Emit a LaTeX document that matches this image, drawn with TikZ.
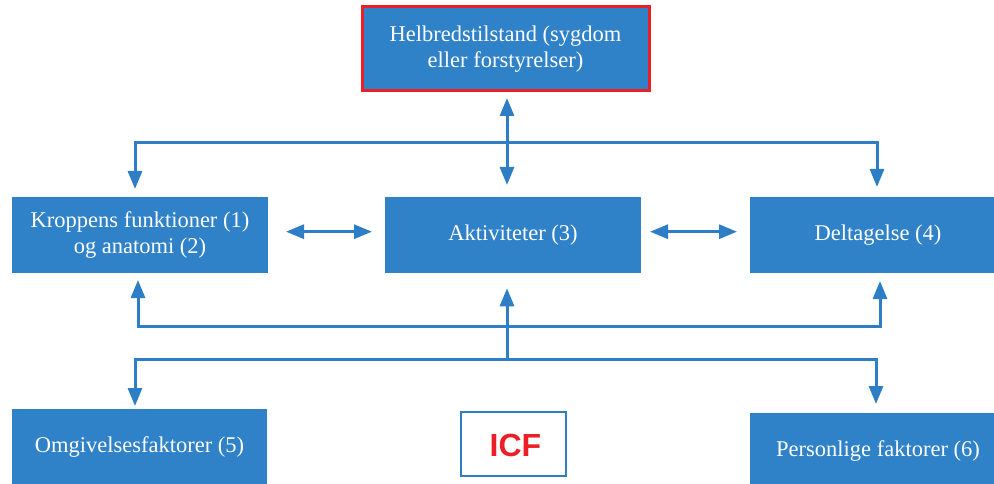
\documentclass[tikz,border=0pt]{standalone}
\usepackage{fontspec}
\setmainfont{Liberation Serif}
\newfontfamily\icffont{Liberation Sans}
\usetikzlibrary{arrows.meta}
\definecolor{boxblue}{RGB}{47,129,200}
\definecolor{lineblue}{RGB}{46,126,198}
\definecolor{icfred}{RGB}{236,30,38}
\begin{document}
\begin{tikzpicture}[x=1pt,y=-1pt,
  bluebox/.style={rectangle, fill=boxblue, inner sep=0pt, outer sep=0pt, text=white,
    align=center, font=\fontsize{22.5}{25.6}\selectfont},
  conn/.style={draw=lineblue, line width=3pt, line join=miter,
    arrows={Triangle[length=18pt,width=14pt]-Triangle[length=18pt,width=14pt]}},
  connone/.style={draw=lineblue, line width=3pt,
    arrows={-Triangle[length=18pt,width=14pt]}}]
\useasboundingbox (0,0) rectangle (994,484);
% boxes
\node[bluebox, draw=icfred, line width=3pt, minimum width=287pt, minimum height=84pt] (top) at (505.5,49) {Helbredstilstand (sygdom\\eller forstyrelser)};
\node[bluebox, minimum width=256pt, minimum height=76pt] (kb) at (140,235) {Kroppens funktioner (1)\\og anatomi (2)};
\node[bluebox, minimum width=256pt, minimum height=76pt] (akt) at (513,235) {Aktiviteter (3)};
\node[bluebox, minimum width=256pt, minimum height=76pt] (del) at (878,235) {Deltagelse (4)};
\node[bluebox, minimum width=255pt, minimum height=77pt] (om) at (139.5,447.2) {Omgivelsesfaktorer (5)};
\node[bluebox, minimum width=256pt, minimum height=77pt] (pers) at (878,451.2) {Personlige faktorer (6)};
\node[rectangle, draw=lineblue, line width=2.7pt, fill=white, minimum width=105pt, minimum height=64pt, inner sep=0pt] (icf) at (513.5,444) {};
\node[text=icfred, font=\icffont\bfseries\fontsize{32}{32}\selectfont, inner sep=0pt] (icft) at (515.5,445.3) {ICF};
% coordinates
\coordinate (hj) at (507,142.7);
\coordinate (tl) at (135,142.7);
\coordinate (tr) at (877,142.7);
\coordinate (ul) at (138,326.7);
\coordinate (ur) at (880,326.7);
\coordinate (lm) at (507,359);
\coordinate (ll) at (135,359);
\coordinate (lr) at (876,359);
% top connectors
\draw[conn, shorten <=7pt, shorten >=12pt] (hj |- top.south) -- (hj |- akt.north);
\draw[conn, shorten <=8pt, shorten >=10pt] (tl |- kb.north) -- (tl) -- (tr) -- (tr |- del.north);
% horizontal double arrows
\draw[conn, shorten <=18pt, shorten >=13pt] ([yshift=3.3pt]kb.east) -- ([yshift=3.3pt]akt.west);
\draw[conn, shorten <=9pt, shorten >=13pt] ([yshift=3.3pt]akt.east) -- ([yshift=3.3pt]del.west);
% bottom connectors
\draw[conn, shorten <=7pt, shorten >=8pt] (ul |- kb.south) -- (ul) -- (ur) -- (ur |- del.south);
\draw[connone, shorten >=15.3pt] (lm) -- (lm |- akt.south);
\draw[conn, shorten <=2.7pt, shorten >=8.7pt] (ll |- om.north) -- (ll) -- (lr) -- (lr |- pers.north);
\end{tikzpicture}
\end{document}
